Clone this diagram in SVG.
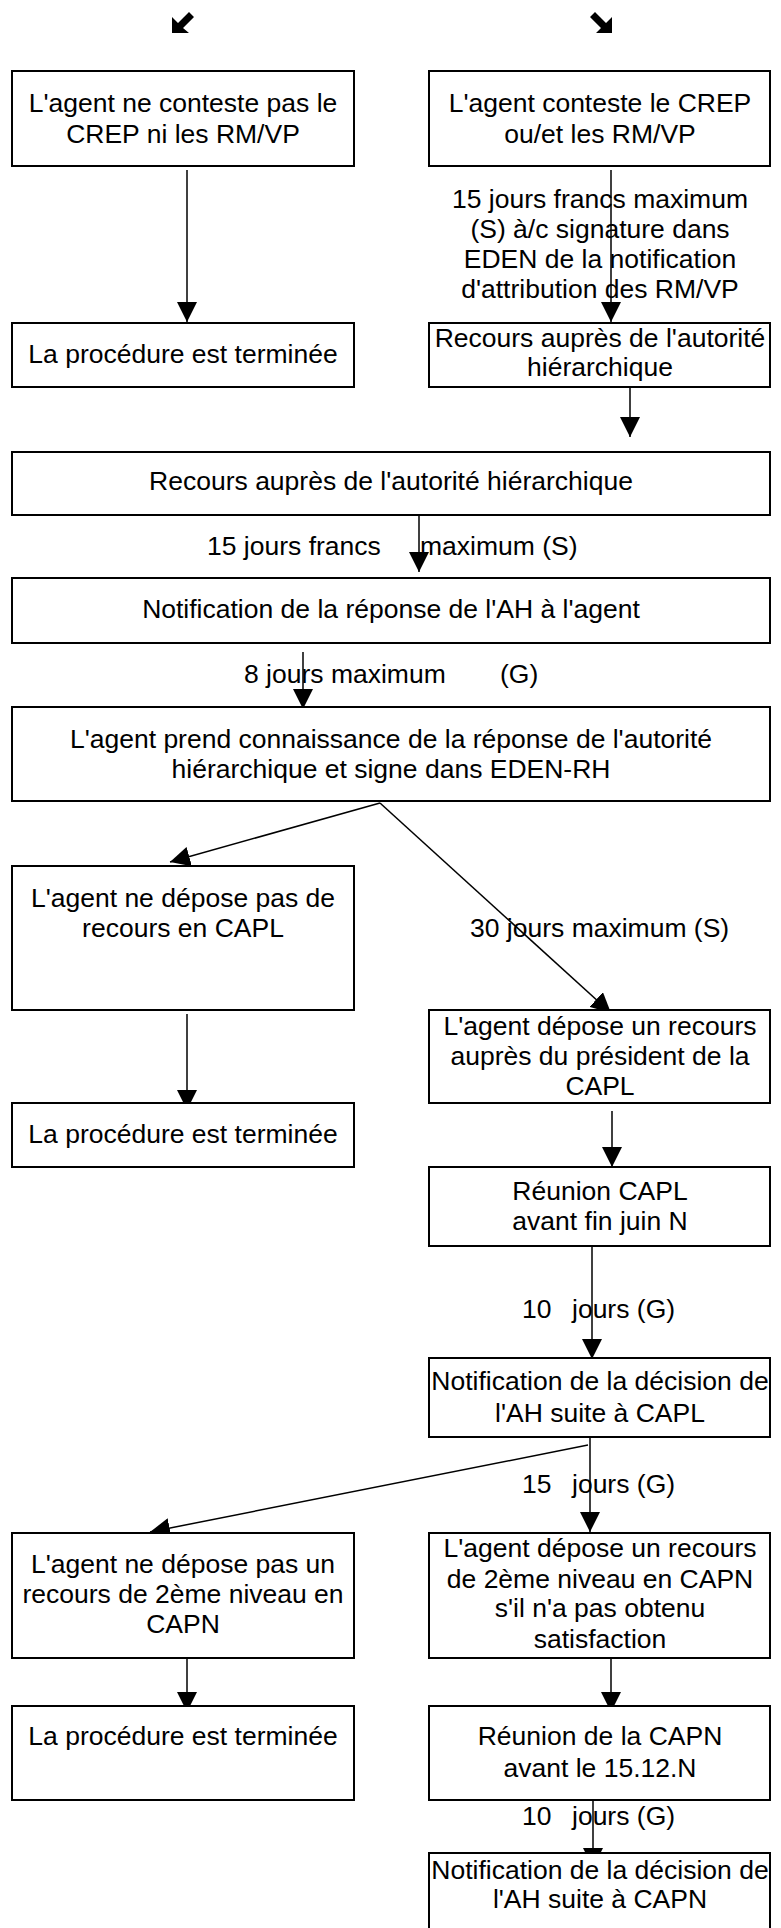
<svg xmlns="http://www.w3.org/2000/svg" width="781" height="1928" viewBox="0 0 781 1928">
<style>
.box{fill:#fff;stroke:#000;stroke-width:2}
.t{font-family:"Liberation Sans",Arial,sans-serif;font-size:26.5px;fill:#000;text-anchor:middle}
.l{font-family:"Liberation Sans",Arial,sans-serif;font-size:26.5px;fill:#000}
.c{stroke:#000;stroke-width:1.5;fill:none;marker-end:url(#ah)}
</style>
<defs>
<marker id="ah" markerUnits="userSpaceOnUse" markerWidth="20" markerHeight="20" refX="20" refY="10" orient="auto">
<path d="M0,0 L20,10 L0,20 z" fill="#000"/>
</marker>
</defs>
<rect width="781" height="1928" fill="#fff"/>
<g id="glyphs">
<polygon points="172,33 172,17 178,23 189,12 194,17 183,28 189,33" fill="#000"/>
<polygon points="612,33 612,17 606,23 595,12 590,17 601,28 596,33" fill="#000"/>
</g>
<g id="connectors">
<line class="c" x1="187" y1="170" x2="187" y2="322"/>
<line class="c" x1="611" y1="170" x2="611" y2="322"/>
<line class="c" x1="630" y1="388" x2="630" y2="437"/>
<line class="c" x1="419" y1="515" x2="419" y2="572"/>
<line class="c" x1="303" y1="652" x2="303" y2="709"/>
<line class="c" x1="380" y1="803" x2="170" y2="862"/>
<line class="c" x1="380" y1="803" x2="611" y2="1013"/>
<line class="c" x1="187" y1="1014" x2="187" y2="1110"/>
<line class="c" x1="612" y1="1111" x2="612" y2="1167"/>
<line class="c" x1="592" y1="1244" x2="592" y2="1359"/>
<line class="c" x1="590" y1="1437" x2="590" y2="1532"/>
<line class="c" x1="588" y1="1445" x2="150" y2="1532"/>
<line class="c" x1="187" y1="1655" x2="187" y2="1712"/>
<line class="c" x1="611" y1="1655" x2="611" y2="1712"/>
<line class="c" x1="593" y1="1793" x2="593" y2="1868"/>
<text class="t" x="600"><tspan x="600" y="208">15 jours francs maximum</tspan><tspan x="600" y="238">(S) à/c signature dans</tspan><tspan x="600" y="268">EDEN de la notification</tspan><tspan x="600" y="298">d'attribution des RM/VP</tspan></text>
<text class="l" y="555"><tspan x="207">15 jours francs</tspan><tspan x="420">maximum (S)</tspan></text>
<text class="l" y="683"><tspan x="244">8 jours maximum</tspan><tspan x="500">(G)</tspan></text>
<text class="l" x="470" y="937">30 jours maximum (S)</text>
<text class="l" y="1318"><tspan x="522">10</tspan><tspan x="572">jours (G)</tspan></text>
<text class="l" y="1493"><tspan x="522">15</tspan><tspan x="572">jours (G)</tspan></text>
<text class="l" y="1825"><tspan x="522">10</tspan><tspan x="572">jours (G)</tspan></text>
</g>
<g id="n1"><rect class="box" x="12" y="71" width="342" height="95"/><text class="t"><tspan x="183" y="112">L'agent ne conteste pas le</tspan><tspan x="183" y="143">CREP ni les RM/VP</tspan></text></g>
<g id="n2"><rect class="box" x="429" y="71" width="341" height="95"/><text class="t"><tspan x="600" y="112">L'agent conteste le CREP</tspan><tspan x="600" y="143">ou/et les RM/VP</tspan></text></g>
<g id="n3"><rect class="box" x="12" y="323" width="342" height="64"/><text class="t" x="183" y="363">La procédure est terminée</text></g>
<g id="n4"><rect class="box" x="429" y="323" width="341" height="64"/><text class="t"><tspan x="600" y="347">Recours auprès de l'autorité</tspan><tspan x="600" y="376">hiérarchique</tspan></text></g>
<g id="n5"><rect class="box" x="12" y="452" width="758" height="63"/><text class="t" x="391" y="490">Recours auprès de l'autorité hiérarchique</text></g>
<g id="n6"><rect class="box" x="12" y="578" width="758" height="65"/><text class="t" x="391" y="618">Notification de la réponse de l'AH à l'agent</text></g>
<g id="n7"><rect class="box" x="12" y="707" width="758" height="94"/><text class="t"><tspan x="391" y="748">L'agent prend connaissance de la réponse de l'autorité</tspan><tspan x="391" y="778">hiérarchique et signe dans EDEN-RH</tspan></text></g>
<g id="n8"><rect class="box" x="12" y="866" width="342" height="144"/><text class="t"><tspan x="183" y="907">L'agent ne dépose pas de</tspan><tspan x="183" y="937">recours en CAPL</tspan></text></g>
<g id="n9"><rect class="box" x="12" y="1103" width="342" height="64"/><text class="t" x="183" y="1143">La procédure est terminée</text></g>
<g id="n10"><rect class="box" x="429" y="1010" width="341" height="93"/><text class="t"><tspan x="600" y="1035">L'agent dépose un recours</tspan><tspan x="600" y="1065">auprès du président de la</tspan><tspan x="600" y="1095">CAPL</tspan></text></g>
<g id="n11"><rect class="box" x="429" y="1167" width="341" height="79"/><text class="t"><tspan x="600" y="1200">Réunion CAPL</tspan><tspan x="600" y="1230">avant fin juin N</tspan></text></g>
<g id="n12"><rect class="box" x="429" y="1358" width="341" height="79"/><text class="t"><tspan x="600" y="1390">Notification de la décision de</tspan><tspan x="600" y="1422">l'AH suite à CAPL</tspan></text></g>
<g id="n13"><rect class="box" x="12" y="1533" width="342" height="125"/><text class="t"><tspan x="183" y="1573">L'agent ne dépose pas un</tspan><tspan x="183" y="1603">recours de 2ème niveau en</tspan><tspan x="183" y="1633">CAPN</tspan></text></g>
<g id="n14"><rect class="box" x="429" y="1533" width="341" height="125"/><text class="t"><tspan x="600" y="1557">L'agent dépose un recours</tspan><tspan x="600" y="1588">de 2ème niveau en CAPN</tspan><tspan x="600" y="1617">s'il n'a pas obtenu</tspan><tspan x="600" y="1648">satisfaction</tspan></text></g>
<g id="n15"><rect class="box" x="12" y="1706" width="342" height="94"/><text class="t" x="183" y="1745">La procédure est terminée</text></g>
<g id="n16"><rect class="box" x="429" y="1706" width="341" height="94"/><text class="t"><tspan x="600" y="1745">Réunion de la CAPN</tspan><tspan x="600" y="1777">avant le 15.12.N</tspan></text></g>
<g id="n17"><rect class="box" x="429" y="1853" width="341" height="90"/><text class="t"><tspan x="600" y="1879">Notification de la décision de</tspan><tspan x="600" y="1908">l'AH suite à CAPN</tspan></text></g>
</svg>
